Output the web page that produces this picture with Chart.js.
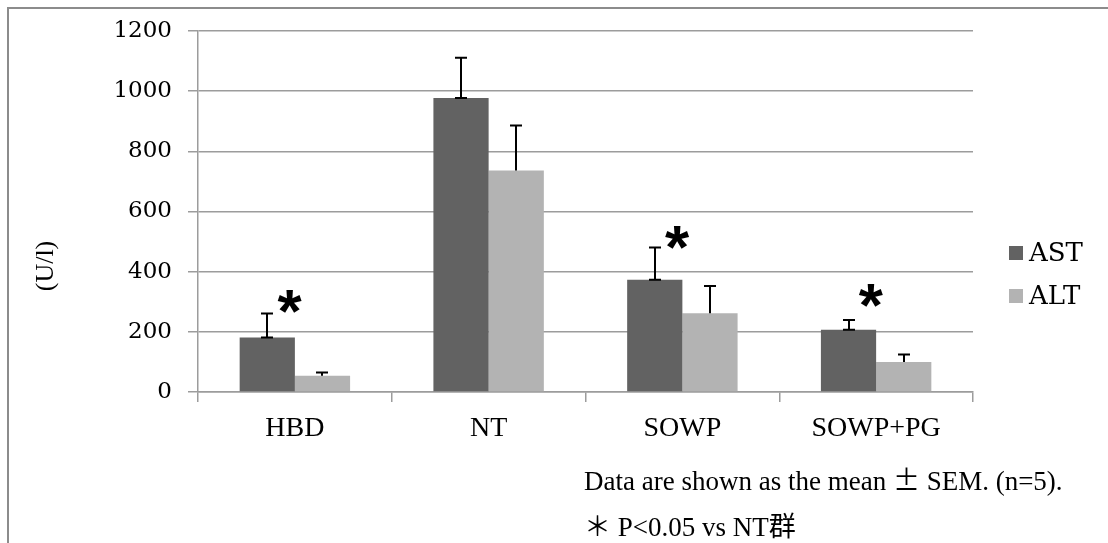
<!DOCTYPE html>
<html>
<head>
<meta charset="utf-8">
<script src="https://cdn.jsdelivr.net/npm/chart.js@4/dist/chart.umd.min.js"></script>
<style>
  html, body { margin: 0; padding: 0; background: #fff; }
  #wrap { width: 1108px; height: 543px; }
</style>
</head>
<body>
<div id="wrap"><canvas id="c" width="1108" height="543"></canvas></div>
<script>
const categories = ["HBD", "NT", "SOWP", "SOWP+PG"];
const astValues = [181, 977, 373, 207];
const astSem = [80, 134, 107, 32];
const altValues = [54, 736, 262, 100];
const altSem = [11, 150, 90, 25];
const starValues = [300, null, 513, 320];
const yTicks = [0, 200, 400, 600, 800, 1000, 1200];
const yTitle = "(U/l)";
const note1a = "Data are shown as the mean ";
const note1b = "±";
const note1c = " SEM. (n=5).";
const note2 = "＊ P<0.05 vs NT群";

const GRID = '#9c9c9c';
const SERIF = "'Liberation Serif', 'Noto Sans CJK JP', serif";

const extras = {
  id: 'extras',
  beforeDraw(chart) {
    const ctx = chart.ctx;
    ctx.save();
    ctx.fillStyle = '#fff';
    ctx.fillRect(0, 0, chart.width, chart.height);
    ctx.strokeStyle = '#8c8c8c';
    ctx.lineWidth = 2;
    ctx.beginPath();
    ctx.moveTo(8, chart.height + 5);
    ctx.lineTo(8, 8);
    ctx.lineTo(chart.width + 5, 8);
    ctx.stroke();
    ctx.restore();
  },
  afterDatasetsDraw(chart) {
    const ctx = chart.ctx;
    const y = chart.scales.y;
    const x = chart.scales.x;
    ctx.save();
    ctx.strokeStyle = '#000';
    ctx.lineWidth = 2;
    const sets = [[astValues, astSem, true], [altValues, altSem, false]];
    sets.forEach((s, di) => {
      const meta = chart.getDatasetMeta(di);
      meta.data.forEach((bar, i) => {
        const px = Math.round(bar.x);
        const y0 = y.getPixelForValue(s[0][i]);
        const y1 = y.getPixelForValue(s[0][i] + s[1][i]);
        ctx.beginPath();
        ctx.moveTo(px, y0);
        ctx.lineTo(px, y1);
        ctx.moveTo(px - 6, y1);
        ctx.lineTo(px + 6, y1);
        if (s[2]) {
          ctx.moveTo(px - 6, y0);
          ctx.lineTo(px + 6, y0);
        }
        ctx.stroke();
      });
    });
    // significance stars
    ctx.fillStyle = '#000';
    ctx.font = "bold 62px 'Liberation Sans', sans-serif";
    const m = ctx.measureText('*');
    starValues.forEach((v, i) => {
      if (v === null) return;
      const cx = x.getPixelForValue(i) - 5;
      const cy = y.getPixelForValue(v);
      const bx = cx - (m.actualBoundingBoxRight - m.actualBoundingBoxLeft) / 2 + m.actualBoundingBoxLeft;
      const by = cy + (m.actualBoundingBoxAscent - m.actualBoundingBoxDescent) / 2;
      ctx.textAlign = 'left';
      ctx.textBaseline = 'alphabetic';
      ctx.fillText('*', bx, by);
    });
    ctx.restore();
  },
  afterDraw(chart) {
    const ctx = chart.ctx;
    ctx.save();
    ctx.fillStyle = '#000';
    // y title
    ctx.font = "26px " + SERIF;
    ctx.translate(46, 266);
    ctx.rotate(-Math.PI / 2);
    ctx.textAlign = 'center';
    ctx.textBaseline = 'middle';
    ctx.fillText(yTitle, 0, 0);
    ctx.setTransform(1, 0, 0, 1, 0, 0);
    // legend
    const ds = chart.data.datasets;
    ds.forEach((d, i) => {
      const top = 246 + i * 43;
      ctx.fillStyle = d.backgroundColor;
      ctx.fillRect(1009, top, 14, 14);
      ctx.fillStyle = '#000';
      ctx.font = "26px 'DejaVu Serif', serif";
      ctx.textAlign = 'left';
      ctx.textBaseline = 'middle';
      ctx.fillText(d.label, 1029, top + 8);
    });
    // footnotes
    ctx.textBaseline = 'alphabetic';
    ctx.textAlign = 'left';
    let xx = 584;
    ctx.font = "27px " + SERIF;
    ctx.fillText(note1a, xx, 490);
    xx += ctx.measureText(note1a).width;
    ctx.font = "27px 'Noto Sans CJK JP', sans-serif";
    ctx.fillText(note1b, xx, 490);
    xx += ctx.measureText(note1b).width;
    ctx.font = "27px " + SERIF;
    ctx.fillText(note1c, xx, 490);
    ctx.fillText(note2, 584, 536);
    ctx.restore();
  }
};

new Chart(document.getElementById('c'), {
  type: 'bar',
  data: {
    labels: categories,
    datasets: [
      { label: 'AST', data: astValues, backgroundColor: '#626262', borderWidth: 0,
        categoryPercentage: 0.57, barPercentage: 1.0 },
      { label: 'ALT', data: altValues, backgroundColor: '#b3b3b3', borderWidth: 0,
        categoryPercentage: 0.57, barPercentage: 1.0 }
    ]
  },
  options: {
    responsive: false,
    animation: false,
    layout: { padding: { left: 0, top: 31, right: 135, bottom: 91 } },
    plugins: { legend: { display: false }, tooltip: { enabled: false } },
    scales: {
      x: {
        afterFit(s) { s.height = 60; },
        grid: { offset: true, drawOnChartArea: false, drawTicks: true, tickLength: 10, color: GRID, lineWidth: 1.5 },
        border: { display: true, color: GRID, width: 1.5 },
        ticks: { color: '#000', font: { family: "'Liberation Serif', serif", size: 28 }, padding: 10 }
      },
      y: {
        min: 0, max: 1200,
        afterFit(s) { s.width = 198; },
        afterBuildTicks(s) { s.ticks = yTicks.map(v => ({ value: v })); },
        grid: { color: GRID, lineWidth: 1.5, tickLength: 10 },
        border: { display: true, color: GRID, width: 1.5 },
        ticks: { color: '#000', font: { family: "'DejaVu Serif', serif", size: 23 }, padding: 16,
                 callback: (v) => String(v) }
      }
    }
  },
  plugins: [extras]
});
</script>
</body>
</html>
